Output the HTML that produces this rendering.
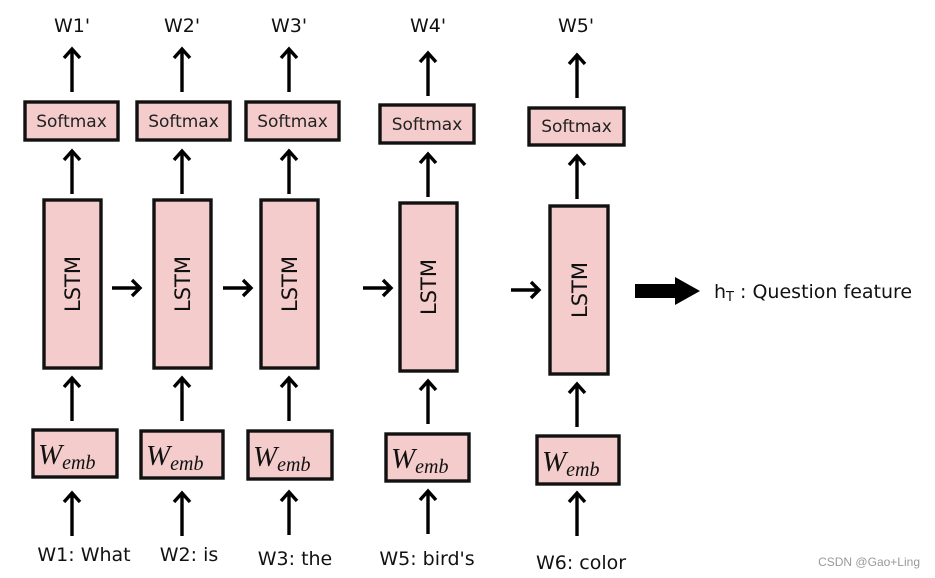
<!DOCTYPE html>
<html><head><meta charset="utf-8"><style>
html,body{margin:0;padding:0;background:#fff;}
svg{display:block;}
.lbl{font-family:"DejaVu Sans","Liberation Sans",sans-serif;font-size:19px;fill:#111;}
.sm{font-family:"DejaVu Sans","Liberation Sans",sans-serif;font-size:17px;fill:#222;}
.ls{font-family:"DejaVu Sans","Liberation Sans",sans-serif;font-size:21px;fill:#111;}
.we{font-family:"Liberation Serif","DejaVu Serif",serif;font-style:italic;fill:#111;}
.box{fill:#f4cccc;stroke:#111;stroke-width:3.4;}
.ar{stroke:#000;stroke-width:3.4;fill:none;stroke-linecap:butt;}
</style></head><body>
<svg width="935" height="578" viewBox="0 0 935 578" xmlns="http://www.w3.org/2000/svg">
<defs>
<g id="up"><path class="ar" d="M0,0 V-43 M-8,-34 L0,-43 L8,-34"/></g>
<g id="rt"><path class="ar" d="M0,0 H28 M20,-8 L28,0 L20,8"/></g>
</defs>

<!-- column 1 -->
<text class="lbl" x="72" y="32" text-anchor="middle">W1'</text>
<use href="#up" x="72" y="92"/>
<rect class="box" x="25" y="102" width="93" height="38"/>
<text class="sm" x="71.5" y="127" text-anchor="middle">Softmax</text>
<use href="#up" x="72" y="194"/>
<rect class="box" x="44" y="200" width="57" height="168"/>
<text class="ls" transform="translate(80,284) rotate(-90)" text-anchor="middle">LSTM</text>
<use href="#up" x="72" y="421"/>
<rect class="box" x="33" y="430" width="84" height="47"/>
<text class="we" x="38" y="464"><tspan font-size="29">W</tspan><tspan font-size="20" dy="5">emb</tspan></text>
<use href="#up" x="72" y="536"/>
<text class="lbl" x="84" y="561" text-anchor="middle">W1: What</text>

<!-- column 2 -->
<text class="lbl" x="182" y="32" text-anchor="middle">W2'</text>
<use href="#up" x="182" y="92"/>
<rect class="box" x="137" y="102" width="93" height="38"/>
<text class="sm" x="183.5" y="127" text-anchor="middle">Softmax</text>
<use href="#up" x="182" y="194"/>
<rect class="box" x="154" y="200" width="57" height="168"/>
<text class="ls" transform="translate(190,284) rotate(-90)" text-anchor="middle">LSTM</text>
<use href="#up" x="182" y="421"/>
<rect class="box" x="141" y="431" width="82" height="47"/>
<text class="we" x="146" y="465"><tspan font-size="29">W</tspan><tspan font-size="20" dy="5">emb</tspan></text>
<use href="#up" x="182" y="536"/>
<text class="lbl" x="189" y="561" text-anchor="middle">W2: is</text>

<!-- column 3 -->
<text class="lbl" x="289" y="32" text-anchor="middle">W3'</text>
<use href="#up" x="289" y="92"/>
<rect class="box" x="246" y="102" width="93" height="38"/>
<text class="sm" x="292.5" y="127" text-anchor="middle">Softmax</text>
<use href="#up" x="289" y="194"/>
<rect class="box" x="261" y="200" width="57" height="168"/>
<text class="ls" transform="translate(297,284) rotate(-90)" text-anchor="middle">LSTM</text>
<use href="#up" x="289" y="421"/>
<rect class="box" x="248" y="431" width="84" height="48"/>
<text class="we" x="253" y="466"><tspan font-size="29">W</tspan><tspan font-size="20" dy="5">emb</tspan></text>
<use href="#up" x="289" y="535"/>
<text class="lbl" x="295" y="565" text-anchor="middle">W3: the</text>

<!-- column 4 -->
<text class="lbl" x="428" y="32" text-anchor="middle">W4'</text>
<use href="#up" x="428" y="96"/>
<rect class="box" x="380" y="105" width="94" height="38"/>
<text class="sm" x="427" y="130" text-anchor="middle">Softmax</text>
<use href="#up" x="428" y="197"/>
<rect class="box" x="400" y="203" width="57" height="168"/>
<text class="ls" transform="translate(436,287) rotate(-90)" text-anchor="middle">LSTM</text>
<use href="#up" x="428" y="424"/>
<rect class="box" x="386" y="434" width="83" height="47"/>
<text class="we" x="391" y="468"><tspan font-size="29">W</tspan><tspan font-size="20" dy="5">emb</tspan></text>
<use href="#up" x="428" y="534"/>
<text class="lbl" x="427" y="565" text-anchor="middle">W5: bird's</text>

<!-- column 5 -->
<text class="lbl" x="576" y="32" text-anchor="middle">W5'</text>
<use href="#up" x="577" y="98"/>
<rect class="box" x="529" y="108" width="95" height="37"/>
<text class="sm" x="576.5" y="132" text-anchor="middle">Softmax</text>
<use href="#up" x="577" y="199"/>
<rect class="box" x="550" y="206" width="58" height="168"/>
<text class="ls" transform="translate(587,290) rotate(-90)" text-anchor="middle">LSTM</text>
<use href="#up" x="577" y="427"/>
<rect class="box" x="537" y="436" width="82" height="48"/>
<text class="we" x="542" y="471"><tspan font-size="29">W</tspan><tspan font-size="20" dy="5">emb</tspan></text>
<use href="#up" x="577" y="536"/>
<text class="lbl" x="581" y="569" text-anchor="middle">W6: color</text>

<!-- horizontal arrows -->
<use href="#rt" x="112" y="288"/>
<use href="#rt" x="223" y="288"/>
<use href="#rt" x="363" y="288"/>
<use href="#rt" x="511" y="290"/>

<!-- big arrow -->
<path d="M635,284 H675 V277 L700,291 L675,305 V298 H635 Z" fill="#000"/>
<text class="lbl" x="714" y="298" font-size="20">h<tspan font-size="13" dy="3">T</tspan><tspan dy="-3"> : Question feature</tspan></text>

<text x="920" y="566" text-anchor="end" font-family="'Liberation Sans',sans-serif" font-size="12" fill="#999">CSDN @Gao+Ling</text>
</svg>
</body></html>
